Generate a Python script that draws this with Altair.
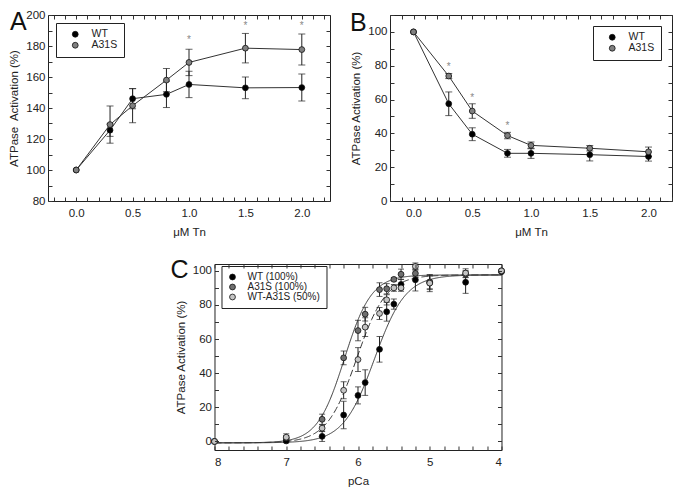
import altair as alt
import pandas as pd

FONT = "Liberation Sans"
INK = "#222222"
TICK_COLOR = "#333333"

# ---------------- Panel A ----------------
a_conc = [0.0, 0.3, 0.5, 0.8, 1.0, 1.5, 2.0]
a_wt = [100.0, 125.7, 146.0, 148.8, 155.2, 153.0, 153.2]
a_wt_err = [0.0, 4.0, 6.5, 8.5, 8.5, 7.0, 8.7]
a_mut = [100.0, 129.3, 141.5, 158.0, 169.4, 178.6, 177.7]
a_mut_err = [0.0, 12.0, 11.0, 7.5, 8.5, 9.5, 10.0]
a_star_x = [1.0, 1.5, 2.0]
a_star_y = [186.0, 194.8, 194.8]

# ---------------- Panel B ----------------
b_conc = [0.0, 0.3, 0.5, 0.8, 1.0, 1.5, 2.0]
b_wt = [100.0, 57.5, 39.5, 28.2, 28.2, 27.4, 26.3]
b_wt_err = [0.0, 7.0, 3.8, 2.3, 3.0, 3.7, 2.7]
b_mut = [100.0, 73.9, 53.2, 38.7, 32.9, 31.2, 29.1]
b_mut_err = [0.0, 1.5, 4.3, 1.9, 2.0, 1.6, 2.8]
b_star_x = [0.3, 0.5, 0.8]
b_star_y = [80.8, 62.6, 46.0]

ab_names = ["WT", "A31S"]
ab_colors = ["#000000", "#808080"]

# ---------------- Panel C ----------------
c_pca = [8.0, 7.0, 6.5, 6.2, 6.0, 5.9, 5.7, 5.6, 5.5, 5.4, 5.2, 5.0, 4.5, 4.0]
c_wt = [0.0, 0.3, 3.0, 15.5, 27.0, 34.5, 54.0, 76.0, 80.5, 92.0, 94.7, 93.0, 93.3, 99.5]
c_wt_err = [0.0, 1.0, 3.0, 8.0, 5.0, 7.5, 7.5, 5.5, 3.0, 3.0, 6.5, 4.0, 6.5, 0.0]
c_mut = [0.0, 2.0, 13.0, 49.0, 65.0, 74.6, 89.0, 89.5, 95.0, 98.0, 98.5, 93.5, 98.0, 100.0]
c_mut_err = [0.0, 1.5, 3.0, 4.0, 6.0, 4.0, 4.0, 3.0, 1.0, 3.0, 2.0, 4.0, 2.0, 0.0]
c_het = [0.0, 2.5, 7.8, 30.0, 48.0, 67.0, 75.0, 83.0, 90.0, 90.0, 102.6, 92.8, 98.7, 100.0]
c_het_err = [0.0, 2.0, 2.0, 5.0, 7.0, 5.5, 3.5, 3.0, 2.0, 2.0, 2.0, 5.0, 2.5, 0.0]
c_names = ["WT (100%)", "A31S (100%)", "WT-A31S (50%)"]
c_colors = ["#000000", "#6e6e6e", "#c4c4c4"]
# Hill fits drawn in panel C
fit_pca50 = [5.77, 6.19, 6.02]
fit_hill = [2.0, 2.3, 2.1]
fit_dash = [[1, 0], [1, 0], [7, 3]]
fit_bottom = -0.8
fit_top = 97.6

# ---------------- ticks ----------------
ab_x_ticks = [round(-0.2 + 0.1 * i, 2) for i in range(25)]
a_y_ticks = list(range(80, 201, 10))
b_y_ticks = list(range(0, 111, 10))
c_x_ticks = [round(4.0 + 0.2 * i, 2) for i in range(21)]
c_y_ticks = list(range(0, 101, 10))

LBL_HALF = "abs(datum.value * 2 - round(datum.value * 2)) < 0.001 ? format(datum.value, '.1f') : ''"
LBL_INT = "abs(datum.value - round(datum.value)) < 0.001 ? format(datum.value, 'd') : ''"
LBL_20 = "datum.value % 20 == 0 ? format(datum.value, 'd') : ''"

TICK = 4


def main_axis(values, expr, title, orient):
    is_y = orient == "left"
    return alt.Axis(
        orient=orient, values=values, labelExpr=expr, title=title, grid=False, domain=False,
        ticks=True, tickSize=TICK, offset=-TICK, tickColor=TICK_COLOR, tickWidth=1, zindex=1,
        labelPadding=3 if is_y else 6, titlePadding=6 if is_y else 8, labelOverlap=False,
        labelFont=FONT, labelFontSize=11.5, labelColor=INK,
        titleFont=FONT, titleFontSize=11.5, titleColor=INK, titleFontWeight="normal",
    )


def frame_axis(values, orient):
    return alt.Axis(
        orient=orient, values=values, labels=False, title=None, grid=False, domain=False,
        ticks=True, tickSize=TICK, offset=-TICK, tickColor=TICK_COLOR, tickWidth=1, zindex=1,
    )


def long_df(x, names, means_list, errs_list):
    rows = []
    for name, means, errs in zip(names, means_list, errs_list):
        for xi, m, e in zip(x, means, errs):
            rows.append(dict(x=xi, y=m, err=e, lo=m - e, hi=m + e, series=name))
    return pd.DataFrame(rows)


def letter_layer(letter, dx, dy):
    return alt.Chart(pd.DataFrame({"t": [letter]})).mark_text(
        font=FONT, fontSize=25, align="left", baseline="top", color="#111111"
    ).encode(x=alt.value(dx), y=alt.value(dy), text="t:N")


def build_panel(df, names, colors, xs, ys, xticks, yticks, xexpr, yexpr, xtitle, ytitle,
                legend, cap, with_lines, stars=None, curves=None):
    base = alt.Chart(df)
    Xn = alt.X("x:Q", scale=xs, axis=None)
    Yn = alt.Y("y:Q", scale=ys, axis=None)
    layers = []
    # invisible layer carrying the tick-only top / right axes
    layers.append(base.mark_point(opacity=0).encode(
        x=alt.X("x:Q", scale=xs, axis=frame_axis(xticks, "top")),
        y=alt.Y("y:Q", scale=ys, axis=frame_axis(yticks, "right"))))
    if with_lines:
        layers.append(base.mark_line(color="#333333", strokeWidth=1).encode(
            x=Xn, y=Yn, detail="series:N", order="x:Q"))
    if curves:
        for p50, nh, dash in curves:
            expr = (f"{fit_bottom} + ({fit_top} - ({fit_bottom})) / "
                    f"(1 + pow(10, {nh} * (datum.x - {p50})))")
            layers.append(
                alt.Chart(alt.sequence(4.0, 8.005, 0.01, as_="x")).transform_calculate(y=expr)
                .mark_line(color="#333333", strokeWidth=1, strokeDash=dash)
                .encode(x=Xn, y=Yn))
    layers.append(base.transform_filter("datum.err > 0").mark_errorbar(
        ticks=True, size=cap, thickness=1, color=INK, orient="vertical"
    ).encode(x=Xn, y=alt.Y("lo:Q", scale=ys, axis=None), y2="hi:Q"))
    if stars is not None:
        layers.append(alt.Chart(stars).mark_text(
            text="*", font=FONT, fontSize=10, color="#888888", baseline="middle", dy=3
        ).encode(x=Xn, y=Yn))
    layers.append(base.mark_point(
        shape="circle", filled=True, size=34, stroke="#111111", strokeWidth=0.8, opacity=1
    ).encode(
        x=alt.X("x:Q", scale=xs, axis=main_axis(xticks, xexpr, xtitle, "bottom")),
        y=alt.Y("y:Q", scale=ys, axis=main_axis(yticks, yexpr, ytitle, "left")),
        fill=alt.Fill("series:N", scale=alt.Scale(domain=names, range=colors), legend=legend)))
    return layers


# ---- Panel A ----
a_df = long_df(a_conc, ab_names, [a_wt, a_mut], [a_wt_err, a_mut_err])
A = alt.layer(
    *build_panel(
        a_df, ab_names, ab_colors,
        alt.Scale(domain=[-0.25, 2.25], nice=False, zero=False),
        alt.Scale(domain=[80, 200], nice=False, zero=False),
        ab_x_ticks, a_y_ticks, LBL_HALF, LBL_20,
        "\u03bcM Tn", "ATPase\u00a0 Activation (%)",
        alt.Legend(title=None, orient="top-left", offset=8, symbolOffset=8, labelOffset=11),
        7, True, stars=pd.DataFrame({"x": a_star_x, "y": a_star_y})),
    letter_layer("A", -38, -5)
).properties(width=282, height=186)

# ---- Panel B ----
b_df = long_df(b_conc, ab_names, [b_wt, b_mut], [b_wt_err, b_mut_err])
B = alt.layer(
    *build_panel(
        b_df, ab_names, ab_colors,
        alt.Scale(domain=[-0.2, 2.2], nice=False, zero=False),
        alt.Scale(domain=[0, 110], nice=False, zero=False),
        ab_x_ticks, b_y_ticks, LBL_HALF, LBL_20,
        "\u03bcM Tn", "ATPase Activation (%)",
        alt.Legend(title=None, orient="top-right", offset=11, symbolOffset=8, labelOffset=11),
        7, True, stars=pd.DataFrame({"x": b_star_x, "y": b_star_y})),
    letter_layer("B", -40, -4)
).properties(width=282, height=186)

# ---- Panel C ----
c_df = long_df(c_pca, c_names, [c_wt, c_mut, c_het], [c_wt_err, c_mut_err, c_het_err])
C = alt.layer(
    *build_panel(
        c_df, c_names, c_colors,
        alt.Scale(domain=[4, 8], reverse=True, nice=False, zero=False),
        alt.Scale(domain=[-5, 104], nice=False, zero=False),
        c_x_ticks, c_y_ticks, LBL_INT, LBL_20,
        "pCa", "ATPase Activation (%)",
        alt.Legend(title=None, orient="none", legendX=7, legendY=2, symbolOffset=0,
                   labelOffset=10, padding=6, labelFontSize=10),
        6, False, curves=list(zip(fit_pca50, fit_hill, fit_dash))),
    letter_layer("C", -44, -6)
).properties(width=287, height=186)

top = alt.hconcat(A, B, spacing=18).resolve_scale(fill="independent").resolve_legend(fill="independent")
chart = (
    alt.vconcat(top, C, spacing=18, center=True)
    .resolve_scale(fill="independent")
    .resolve_legend(fill="independent")
    .configure_view(stroke=INK, strokeWidth=1)
    .configure_legend(
        strokeColor=INK, fillColor="white", padding=6, strokeWidth=1,
        labelFont=FONT, labelFontSize=10.5, labelColor=INK,
        symbolStrokeColor="#111111", symbolStrokeWidth=0.8, symbolSize=34,
        symbolType="circle", rowPadding=0,
    )
    .properties(background="white", padding=0)
)

chart.save("out.html", embed_options={"renderer": "svg", "actions": False})
